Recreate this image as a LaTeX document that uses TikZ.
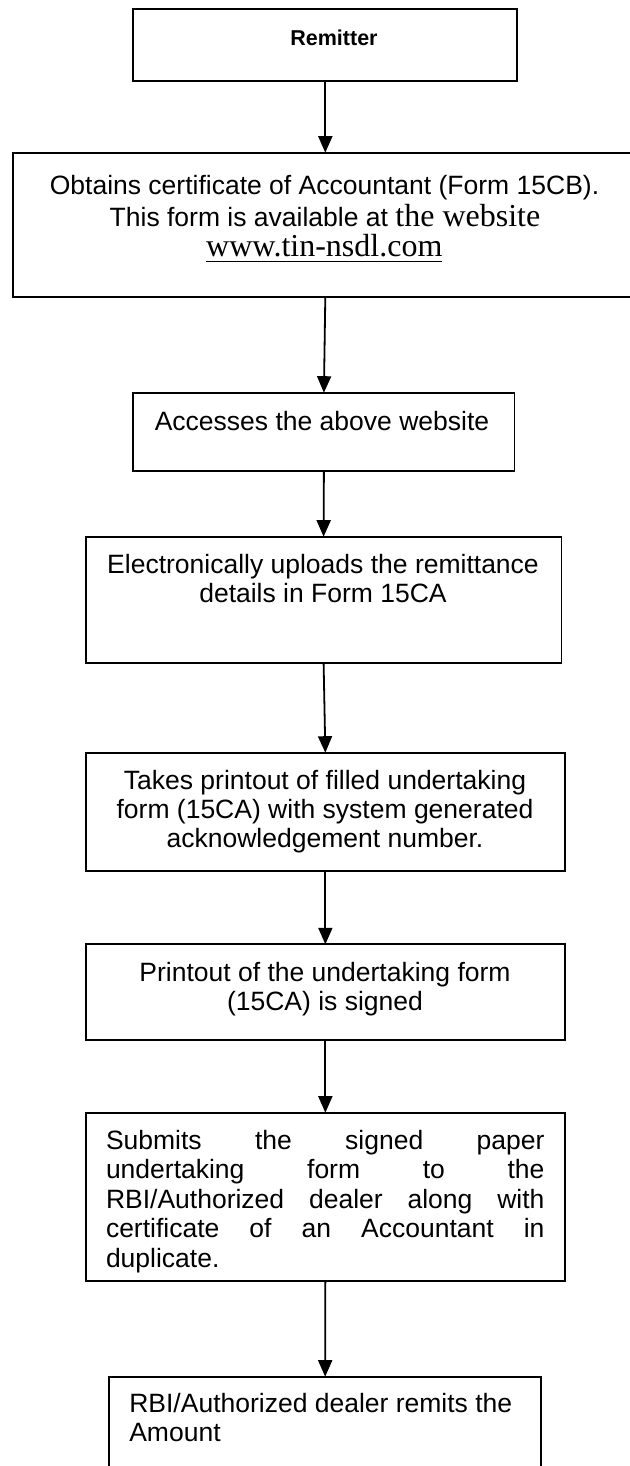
\documentclass[tikz,border=0pt]{standalone}
\usepackage{fontspec}
\setmainfont{Liberation Sans}
\newfontfamily\timesfont{Liberation Serif}
\usetikzlibrary{arrows.meta}
\tikzset{
  box/.style={draw=black, line width=1.7pt, rectangle, inner sep=0pt, outer sep=0pt, anchor=north west},
  txt/.style={inner sep=0pt, outer sep=0pt, anchor=base, font=\fontsize{26.5}{29}\selectfont},
  ltxt/.style={txt, anchor=base west},
  conn/.style={line width=1.8pt, -{Triangle[width=14pt,length=16.5pt]}},
}
\begin{document}
\begin{tikzpicture}[x=1pt,y=-1pt]
\useasboundingbox (0,0) rectangle (629,1466);
\fill[white] (0,0) rectangle (629,1466);
% boxes
\node[box, minimum width=384pt, minimum height=71.4pt] (b1) at (133.3,9.3) {};
\node[box, minimum width=631.7pt, minimum height=144pt] (b2) at (13.3,152.7) {};
\node[box, minimum width=381.2pt, minimum height=78pt] (b3) at (133.3,392.7) {};
\node[box, minimum width=475.8pt, minimum height=126pt] (b4) at (85.7,536.7) {};
\node[box, minimum width=479.3pt, minimum height=118.6pt] (b5) at (85.7,752.7) {};
\node[box, minimum width=479.3pt, minimum height=95.7pt] (b6) at (85.7,944.3) {};
\node[box, minimum width=479.3pt, minimum height=168pt] (b7) at (85.7,1112.7) {};
\node[box, minimum width=431.7pt, minimum height=113.3pt] (b8) at (109.3,1376.7) {};
% texts
\node[txt, font=\bfseries\fontsize{21.5}{26}\selectfont] (t1) at (334,45.7) {Remitter};
\node[txt] (t2a) at (324.5,194) {Obtains certificate of Accountant (Form 15CB).};
\node[txt] (t2b) at (325,226) {This form is available at {\timesfont\fontsize{32}{36}\selectfont the website}};
\node[txt, font=\timesfont\fontsize{32}{36}\selectfont] (t2c) at (324.3,256.5) {www.tin-nsdl.com};
\draw[line width=1.3pt] ([yshift=-5pt]t2c.base west) -- ([yshift=-5pt]t2c.base east);
\node[txt] (t3) at (322,430.5) {Accesses the above website};
\node[txt] (t4a) at (323,573.5) {Electronically uploads the remittance};
\node[txt] (t4b) at (323,602) {details in Form 15CA};
\node[txt] (t5a) at (325,789.5) {Takes printout of filled undertaking};
\node[txt] (t5b) at (325,818.5) {form (15CA) with system generated};
\node[txt] (t5c) at (325,847.5) {acknowledgement number.};
\node[txt] (t6a) at (325,981.5) {Printout of the undertaking form};
\node[txt] (t6b) at (325,1010.5) {(15CA) is signed};
\node[ltxt] (t7a) at (106,1149) {\makebox[438.5pt][s]{Submits the signed paper}};
\node[ltxt] (t7b) at (106,1178.5) {\makebox[438.5pt][s]{undertaking form to the}};
\node[ltxt] (t7c) at (106,1208) {\makebox[438.5pt][s]{RBI/Authorized dealer along with}};
\node[ltxt] (t7d) at (106,1237.5) {\makebox[438.5pt][s]{certificate of an Accountant in}};
\node[ltxt] (t7e) at (106,1267) {duplicate.};
\node[ltxt] (t8a) at (129.3,1412) {RBI/Authorized dealer remits the};
\node[ltxt] (t8b) at (129.3,1441.5) {Amount};
% connectors
\draw[conn] (b1.south) -- (b1.south |- b2.north);
\draw[conn] (b1.south |- b2.south) -- (b3.north);
\draw[conn] (b3.south) -- (b4.north);
\draw[conn] (b4.south) -- (b5.north);
\draw[conn] (b5.south) -- (b6.north);
\draw[conn] (b6.south) -- (b7.north);
\draw[conn] (b7.south) -- (b8.north);
\end{tikzpicture}
\end{document}
